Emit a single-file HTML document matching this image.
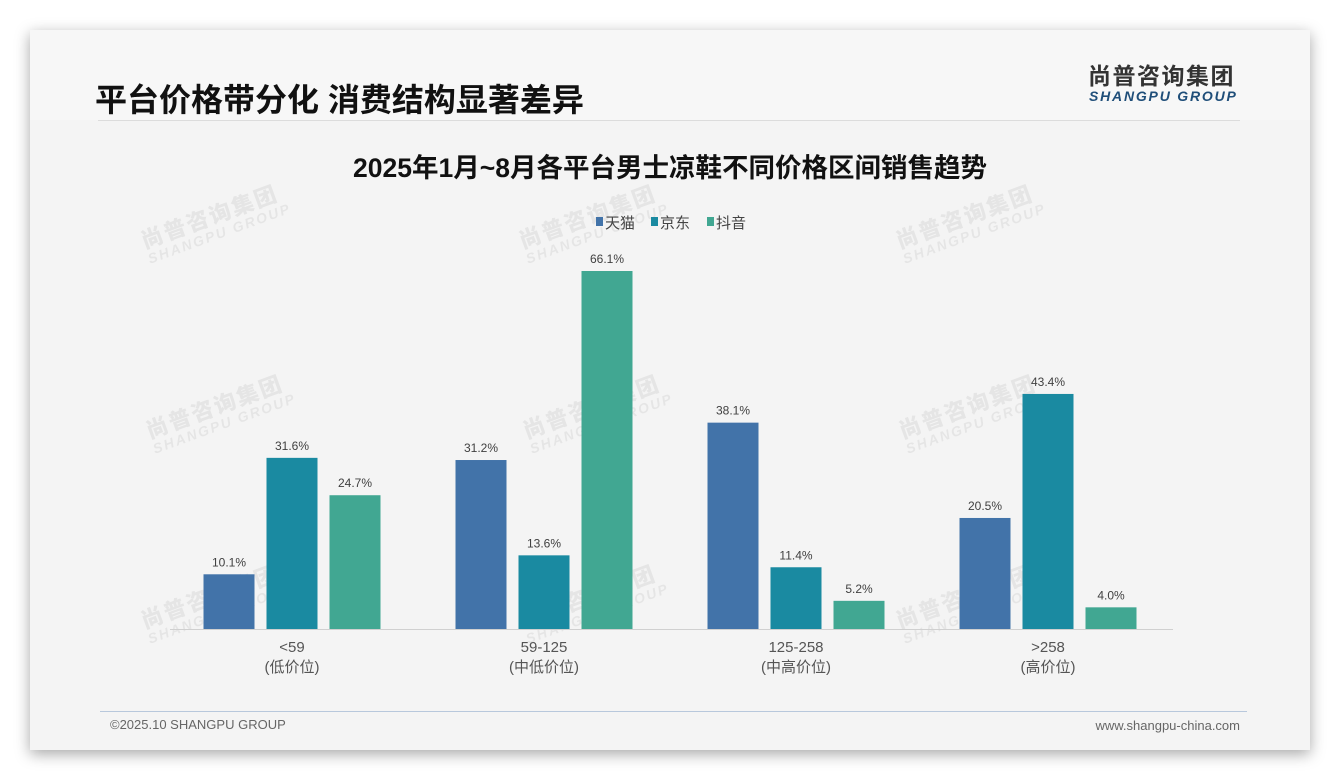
<!DOCTYPE html>
<html><head><meta charset="utf-8"><style>
body{margin:0;width:1340px;height:780px;background:#fff;position:relative;overflow:hidden;font-family:"Liberation Sans","Noto Sans CJK SC",sans-serif;}
#card{position:absolute;left:30px;top:30px;width:1280px;height:720px;background:#f4f4f4;box-shadow:0 4px 14px rgba(0,0,0,0.35);}
.abs{position:absolute;}
.wm{position:absolute;color:rgba(0,0,0,0.06);transform:rotate(-20deg);font-weight:bold;line-height:1;}
.wm b{display:block;font-size:22px;letter-spacing:2px}
.wm i{display:block;font-size:14px;font-style:italic;letter-spacing:2px}
</style></head><body>
<div id="card">
 <div class="abs" style="left:0;top:0;width:1280px;height:90px;background:#f7f7f7"></div>
 <div class="abs" style="left:65px;top:45px;font-size:32px;font-weight:bold;color:#111;white-space:nowrap">平台价格带分化 消费结构显著差异</div>
 <div class="abs" style="left:1058px;top:35px;font-size:23px;line-height:23px;font-weight:bold;color:#333;letter-spacing:1.5px;white-space:nowrap">尚普咨询集团</div>
 <div class="abs" style="left:1059px;top:59px;font-size:14px;line-height:14px;font-weight:bold;font-style:italic;color:#1f4e79;letter-spacing:1.8px;white-space:nowrap">SHANGPU GROUP</div>
 <div class="abs" style="left:68px;top:90px;width:1142px;height:1px;background:#dcdcdc"></div>
 <div class="abs" style="left:70px;top:681px;width:1147px;height:1px;background:#b8c8dc"></div>
 <div class="abs" style="left:80px;top:687px;font-size:13px;color:#666">©2025.10 SHANGPU GROUP</div>
 <div class="abs" style="right:70px;top:688px;font-size:13px;color:#666">www.shangpu-china.com</div>
</div>
<div class="wm" style="left:140px;top:205px"><b>尚普咨询集团</b><i>SHANGPU GROUP</i></div>
<div class="wm" style="left:518px;top:205px"><b>尚普咨询集团</b><i>SHANGPU GROUP</i></div>
<div class="wm" style="left:895px;top:205px"><b>尚普咨询集团</b><i>SHANGPU GROUP</i></div>
<div class="wm" style="left:145px;top:395px"><b>尚普咨询集团</b><i>SHANGPU GROUP</i></div>
<div class="wm" style="left:522px;top:395px"><b>尚普咨询集团</b><i>SHANGPU GROUP</i></div>
<div class="wm" style="left:898px;top:395px"><b>尚普咨询集团</b><i>SHANGPU GROUP</i></div>
<div class="wm" style="left:140px;top:585px"><b>尚普咨询集团</b><i>SHANGPU GROUP</i></div>
<div class="wm" style="left:518px;top:585px"><b>尚普咨询集团</b><i>SHANGPU GROUP</i></div>
<div class="wm" style="left:895px;top:585px"><b>尚普咨询集团</b><i>SHANGPU GROUP</i></div>
<svg id="chart" class="abs" style="left:0;top:0" width="1340" height="780"></svg>
<script>
const categories=["<59","59-125","125-258",">258"];
const subLabels=["(低价位)","(中低价位)","(中高价位)","(高价位)"];
const seriesNames=["天猫","京东","抖音"];
const tmall=[10.1,31.2,38.1,20.5];
const jd=[31.6,13.6,11.4,43.4];
const douyin=[24.7,66.1,5.2,4.0];
const series=[tmall,jd,douyin];
const colors=["#4273a9","#1a8aa1","#41a792"];
const NS="http://www.w3.org/2000/svg";
const svg=document.getElementById('chart');
function mk(tag,attrs,txt){const e=document.createElementNS(NS,tag);for(const k in attrs)e.setAttribute(k,attrs[k]);if(txt!=null)e.textContent=txt;svg.appendChild(e);return e;}
const baseY=629, pxPer=358/66.1;
const y=v=>baseY-v*pxPer;
const x0=292, groupStep=252, barW=51, barStep=63;
const xc=i=>x0+i*groupStep;
let t=mk('text',{x:670,y:177,'text-anchor':'middle','font-size':26.5,'font-weight':'bold',fill:'#111'},'2025年1月~8月各平台男士凉鞋不同价格区间销售趋势');


const legX=[596,651,707];
seriesNames.forEach((n,s)=>{
 const r=mk('rect',{x:legX[s],y:217,width:7,height:9,fill:colors[s]});
 
 
 const lt=mk('text',{x:legX[s]+9,y:228,'font-size':15,fill:'#444'},n);
 
 
});
const ax=mk('line',{x1:170,x2:1173,y1:baseY+0.5,y2:baseY+0.5,stroke:'#d0d0d0','stroke-width':1});


categories.forEach((c,i)=>{
 series.forEach((arr,s)=>{
  const bx=xc(i)+(s-1)*barStep-barW/2;
  const b=mk('rect',{x:bx,y:y(arr[i]),width:barW,height:arr[i]*pxPer,fill:colors[s]});
  
  
  const vl=mk('text',{x:bx+barW/2,y:y(arr[i])-8,'text-anchor':'middle','font-size':12,fill:'#404040'},arr[i].toFixed(1)+'%');
  
  
 });
 const l1=mk('text',{x:xc(i),y:652,'text-anchor':'middle','font-size':15,fill:'#555'},c);
 
 
 const l2=mk('text',{x:xc(i),y:672,'text-anchor':'middle','font-size':15,fill:'#555'},subLabels[i]);
 
 
});
</script>
</body></html>
